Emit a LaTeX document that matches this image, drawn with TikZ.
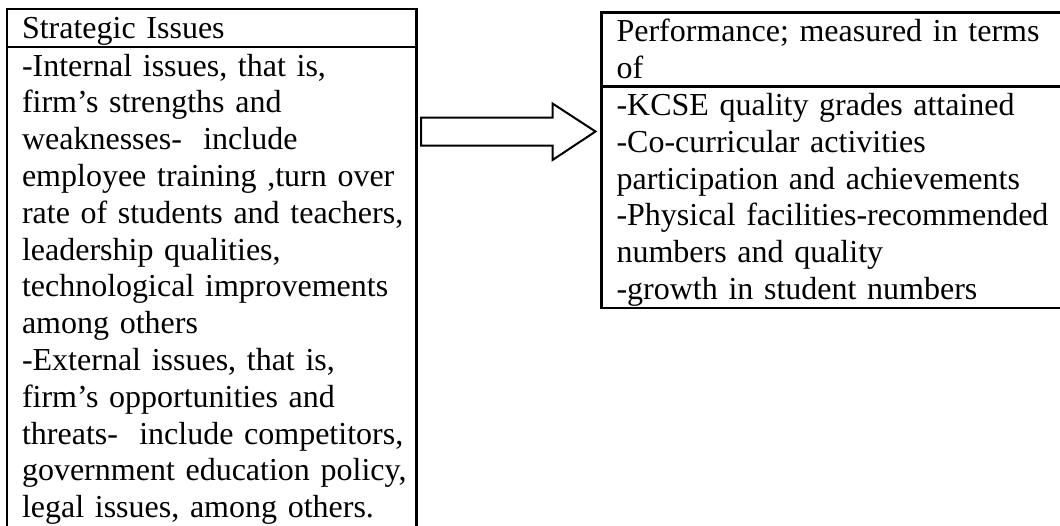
\documentclass[tikz,border=0pt]{standalone}
\usepackage{fontspec}
\setmainfont{Liberation Serif}

\begin{document}
\begin{tikzpicture}[x=0.375pt, y=-0.375pt,
        cell/.style={line width=1pt},
        txt/.style={anchor=base west, inner sep=0pt, align=left, text width=175pt,
            font=\fontsize{12pt}{13.8pt}\selectfont},
        hollow/.style={line width=0.75pt, line join=miter}]
        \useasboundingbox (0,0) rectangle (1060,525);

        % 左侧表格：标题行与内容行
        \draw[cell] (7,9) rectangle (416.7,47);
        \draw[cell] (7,47) rectangle (416.7,528);
        \node[txt] (strat) at (21.5,38) {Strategic Issues};
        \node[txt] (stratlist) at (21.5,76) {-Internal issues, that is,\\
            firm’s strengths and\\
            weaknesses-~ include\\
            employee training ,turn over\\
            rate of students and teachers,\\
            leadership qualities,\\
            technological improvements\\
            among others\\
            -External issues, that is,\\
            firm’s opportunities and\\
            threats-~ include competitors,\\
            government education policy,\\
            legal issues, among others.};

        % 右侧表格
        \draw[cell] (601.7,12.5) rectangle (1075,86.7);
        \draw[cell] (601.7,86.7) rectangle (1075,308);
        \node[txt] (perf) at (616,41.5) {Performance; measured in terms\\of};
        \node[txt] (perflist) at (616,115.5) {-KCSE quality grades attained\\
            -Co-curricular activities\\
            participation and achievements\\
            -Physical facilities-recommended\\
            numbers and quality\\
            -growth in student numbers};

        % 空心箭头
        \coordinate (tail) at (421,131.5);
        \draw[hollow] (tail) ++(0,-14) -- ++(131.5,0) -- ++(0,-14) -- (595.5,131.5)
            -- ++(-43,28.5) -- ++(0,-14.5) -- ++(-131.5,0) -- cycle;
    \end{tikzpicture}
\end{document}
